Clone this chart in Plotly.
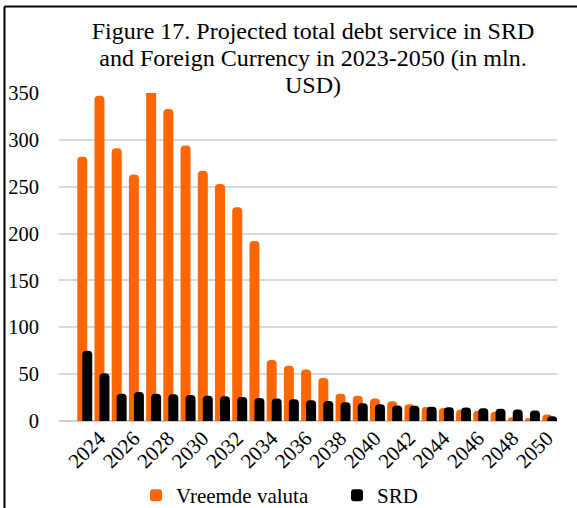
import plotly.graph_objects as go

# Debt service projections, mln. USD
years = [str(y) for y in range(2023, 2051)]
foreign_currency = [282, 347, 291, 263, 362, 333, 294, 267, 253, 228, 192, 65, 59, 55,
                    46, 29, 27, 24, 21, 18, 15, 14, 12, 11, 10, 4, 3, 7]
srd = [75, 51, 29, 31, 29, 28.5, 27.7, 27, 26.3, 25.6, 24.6, 23.9, 23.2, 22.1,
       21.3, 19.9, 18.9, 18, 16.5, 16.2, 15.2, 14.8, 14.4, 13.7, 13, 12.3, 11.3, 5]
series_names = ["Vreemde valuta", "SRD"]
y_ticks = [0, 50, 100, 150, 200, 250, 300, 350]
title_lines = ["Figure 17. Projected total debt service in SRD",
               "and Foreign Currency in 2023-2050 (in mln.",
               "USD)"]

FONT = "Liberation Serif"
W, H = 577, 508
L, R, T, B = 59, 20, 93, 87  # plot area margins

fig = go.Figure()
fig.add_trace(go.Bar(x=years, y=foreign_currency, name=series_names[0],
                     marker=dict(color="#FF6600", line=dict(width=0)),
                     width=0.58, offset=-0.45))
fig.add_trace(go.Bar(x=years, y=srd, name=series_names[1],
                     marker=dict(color="#000000", line=dict(width=0)),
                     width=0.58, offset=-0.16))

# frame lines around the chart (left and top edges)
pw, ph = W - L - R, H - T - B
def px_x(x):
    return (x - L) / pw
def px_y(y):
    return (H - B - y) / ph

fig.add_shape(type="line", xref="paper", yref="paper",
              x0=px_x(4.5), x1=px_x(4.5), y0=px_y(6.5), y1=px_y(520),
              line=dict(color="black", width=2))
fig.add_shape(type="line", xref="paper", yref="paper",
              x0=px_x(4.5), x1=px_x(590), y0=px_y(6.5), y1=px_y(6.5),
              line=dict(color="black", width=2))

# title glyphs at 24px with tighter line spacing (spacing follows the base size)
title_text = "<br>".join(f'<span style="font-size:24px">{s}</span>' for s in title_lines)

fig.update_layout(
    template="none",
    width=W, height=H,
    margin=dict(l=L, r=R, t=T, b=B, pad=0, autoexpand=False),
    paper_bgcolor="white", plot_bgcolor="white",
    barmode="overlay",
    barcornerradius=4,
    font=dict(family=FONT, color="black", size=20),
    title=dict(
        text=title_text,
        font=dict(family=FONT, size=20.8, color="black"),
        x=313 / W, xanchor="center", xref="container",
        y=1 - 39 / H, yanchor="top", yref="container",
        automargin=False,
    ),
    xaxis=dict(
        type="category",
        range=[-1.51, 27.41],
        tickmode="array",
        tickvals=years[1::2],
        ticktext=years[1::2],
        tickangle=-45,
        tickfont=dict(family=FONT, size=21, color="black"),
        ticklabelshift=-3,
        showgrid=False,
        showline=False,
        ticks="",
        zeroline=False,
        automargin=False,
    ),
    yaxis=dict(
        range=[0, 350],
        tickvals=y_ticks,
        tickfont=dict(family=FONT, size=20.5, color="black"),
        showgrid=True,
        gridcolor="#D9D9D9",
        gridwidth=1.5,
        zeroline=True,
        zerolinecolor="#D0D0D0",
        zerolinewidth=2,
        ticks="",
        ticklabelstandoff=19,
        showline=False,
        automargin=False,
    ),
    legend=dict(
        orientation="h",
        x=(136 - L) / pw, xanchor="left",
        y=px_y(475), yanchor="top",
        font=dict(family=FONT, size=21, color="black"),
        entrywidth=156,
        itemwidth=30,
        bgcolor="rgba(0,0,0,0)",
        traceorder="normal",
    ),
    showlegend=True,
)

fig.write_html("out.html")
